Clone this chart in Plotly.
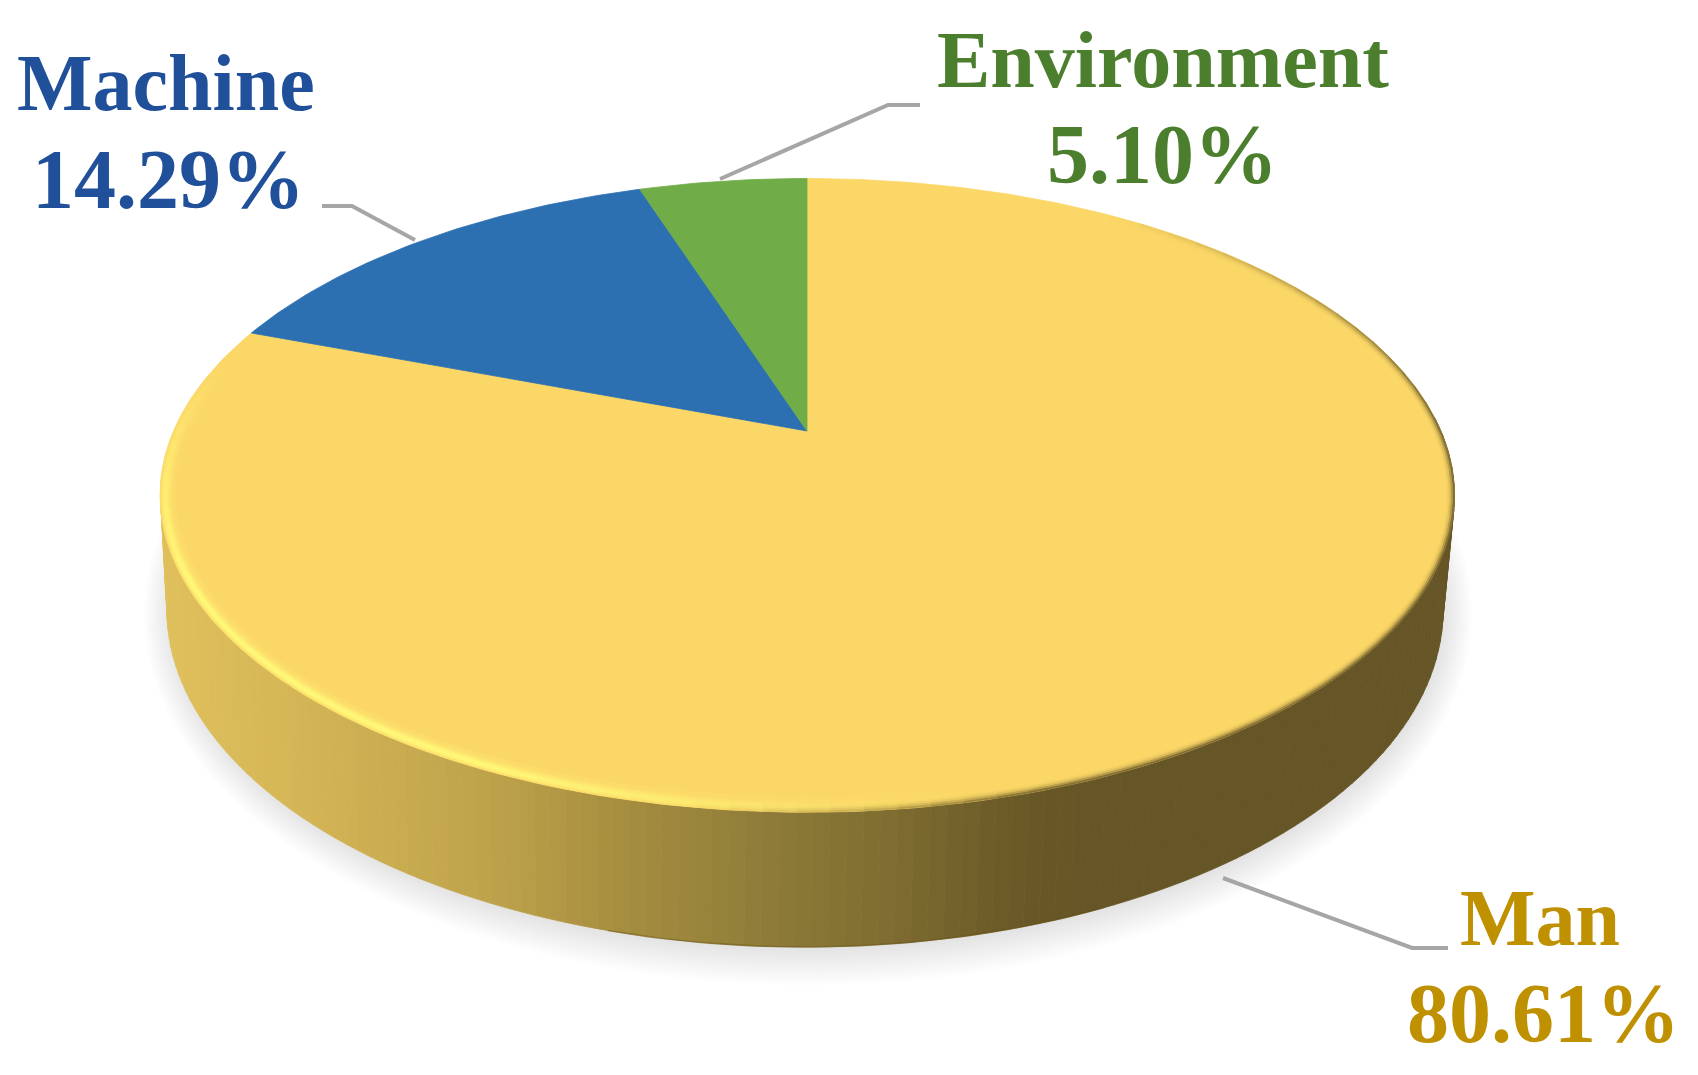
import numpy as np
import plotly.graph_objects as go

# ---- data ----
labels = ["Man", "Machine", "Environment"]
values = [80.61, 14.29, 5.10]
slice_colors = ["#FBD767", "#2C70B2", "#70AC47"]
text_colors = ["#BF9000", "#21509A", "#4C7F2D"]

W, H = 1698, 1075
FONT = "Liberation Serif"

# pie geometry in page pixels
APEX = (807.0, 431.0)
TOP_C = (807.5, 495.5)
TOP_R = (647.0, 316.5)
BOT_C = (805.0, 610.0)
BOT_R = (638.0, 337.0)
PA, PB, PK = 633.5, 303.8, 0.203


def project(theta, r=1.0):
    """theta clockwise from 12 o'clock on the tilted disc."""
    u, v = r * np.sin(theta), r * np.cos(theta)
    w = 1 + PK * v
    return APEX[0] + PA * u / w, APEX[1] - PB * v / w


def ell(c, rad, phi, d=0.0):
    return c[0] + (rad[0] - d) * np.cos(phi), c[1] + (rad[1] - d) * np.sin(phi)


def rgb(c):
    return "rgb(%d,%d,%d)" % tuple(int(round(x)) for x in c)


def mix(a, b, t):
    return [a[i] + (b[i] - a[i]) * t for i in range(3)]


WALL_X = [160, 300, 500, 600, 780, 900, 1000, 1080, 1460]
WALL_RGB = np.array([
    [224, 192, 92], [212, 182, 86], [189, 161, 74], [170, 145, 65], [140, 122, 56],
    [125, 107, 48], [107, 91, 39], [102, 85, 38], [102, 85, 38]], float)


def wall_color(x):
    return [np.interp(x, WALL_X, WALL_RGB[:, i]) for i in range(3)]


fig = go.Figure()


def poly(xs, ys, color):
    fig.add_trace(go.Scatter(x=xs, y=ys, mode="lines", fill="toself", fillcolor=color,
                             line=dict(color=color, width=0.8), hoverinfo="skip",
                             showlegend=False))


# soft shadow under the pie
for i in range(14):
    g = i / 13
    phi = np.linspace(0, 2 * np.pi, 180)
    sx = BOT_C[0] + 3 + (664 - 28 * g) * np.cos(phi)
    sy = BOT_C[1] + 4 + (371 - 36 * g) * np.sin(phi)
    fig.add_trace(go.Scatter(x=sx, y=sy, mode="lines", fill="toself",
                             fillcolor="rgba(70,70,70,0.011)", line=dict(width=0),
                             hoverinfo="skip", showlegend=False))

# side wall
edges = np.radians(np.arange(-14, 194.1, 1.5))
for p0, p1 in zip(edges[:-1], edges[1:]):
    x0, y0 = ell(TOP_C, TOP_R, p0)
    x1, y1 = ell(TOP_C, TOP_R, p1)
    x2, y2 = ell(BOT_C, BOT_R, p1)
    x3, y3 = ell(BOT_C, BOT_R, p0)
    poly([x0, x1, x2, x3, x0], [y0, y1, y2, y3, y0], rgb(wall_color((x0 + x1 + x2 + x3) / 4)))

# thin darker rim at the bottom of the wall
phi = np.radians(np.linspace(62, 108, 60))
bx, by = ell(BOT_C, BOT_R, phi)
fig.add_trace(go.Scatter(x=bx, y=by, mode="lines", line=dict(color="rgba(100,75,10,0.4)", width=1.6),
                         hoverinfo="skip", showlegend=False))

# top face slices, from the values
fractions = np.array(values) / sum(values)
starts = np.concatenate([[0], np.cumsum(fractions)[:-1]])
for f, s, col in zip(fractions, starts, slice_colors):
    th = 2 * np.pi * np.linspace(s, s + f, max(int(f * 400), 12))
    px, py = project(th)
    poly(np.r_[APEX[0], px, APEX[0]], np.r_[APEX[1], py, APEX[1]], col)

# bevel along the front edge of the top face
TOP_RGB = [251, 215, 103]
HILITE = [255, 248, 120]
bands = [(0, 2, 0.35, 0.80), (2, 4, 0.85, 0.45), (4, 6, 1.0, 0.18), (6, 8, 0.9, 0.05),
         (8, 10, 0.6, 0.0), (10, 12, 0.35, 0.0), (12, 15, 0.15, 0.0)]
rim = np.radians(np.arange(-62, 205.1, 3.0))
for d0, d1, hw, dw in bands:
    for p0, p1 in zip(rim[:-1], rim[1:]):
        deg = np.degrees((p0 + p1) / 2)
        hl = np.interp(deg, [75, 120, 165, 185, 205], [0, 1, 1, 0.6, 0.0])
        dk = np.interp(deg, [-62, -35, -15, 70, 100], [0, 0.6, 1, 1, 0.0])
        xa, ya = ell(TOP_C, TOP_R, p0, d0)
        xb, yb = ell(TOP_C, TOP_R, p1, d0)
        xc, yc = ell(TOP_C, TOP_R, p1, d1)
        xe, ye = ell(TOP_C, TOP_R, p0, d1)
        c = mix(TOP_RGB, HILITE, hl * hw)
        c = mix(c, wall_color(xa), dk * dw)
        poly([xa, xb, xc, xe, xa], [ya, yb, yc, ye, ya], rgb(c))

# leader lines
leaders = {
    "Man": ([1223, 1412, 1448], [878, 948, 948]),
    "Machine": ([322, 352, 415], [206, 206, 240]),
    "Environment": ([920, 888, 720], [105, 105, 179]),
}
for name in labels:
    lx, ly = leaders[name]
    fig.add_trace(go.Scatter(x=lx, y=ly, mode="lines", line=dict(color="#A6A6A6", width=4),
                             hoverinfo="skip", showlegend=False))

# labels: (centre x and baseline of the name, centre x and baseline of the value)
label_pos = {"Man": (1540, 945, 1543, 1042), "Machine": (166, 110, 168.5, 208),
             "Environment": (1163, 87, 1162, 183)}
NAME_FS, VALUE_FS = 80, 84
annotations = []
for name, v, col in zip(labels, values, text_colors):
    cx1, b1, cx2, b2 = label_pos[name]
    for txt, cx, base, fs in ((name, cx1, b1, NAME_FS), (f"{v:.2f}%", cx2, b2, VALUE_FS)):
        annotations.append(dict(x=cx, y=base + 0.24 * fs, xref="x", yref="y",
                                text=f"<b>{txt}</b>", showarrow=False, xanchor="center", yanchor="bottom",
                                font=dict(family=FONT, size=fs, color=col)))

fig.update_layout(
    width=W, height=H, autosize=False,
    margin=dict(l=0, r=0, t=0, b=0),
    paper_bgcolor="white", plot_bgcolor="white", showlegend=False,
    xaxis=dict(range=[0, W], visible=False, fixedrange=True),
    yaxis=dict(range=[H, 0], visible=False, fixedrange=True),
    annotations=annotations,
)
fig.write_html("out.html", config={"displayModeBar": False},
               post_script="document.body.style.margin='0';document.body.style.overflow='hidden';")
